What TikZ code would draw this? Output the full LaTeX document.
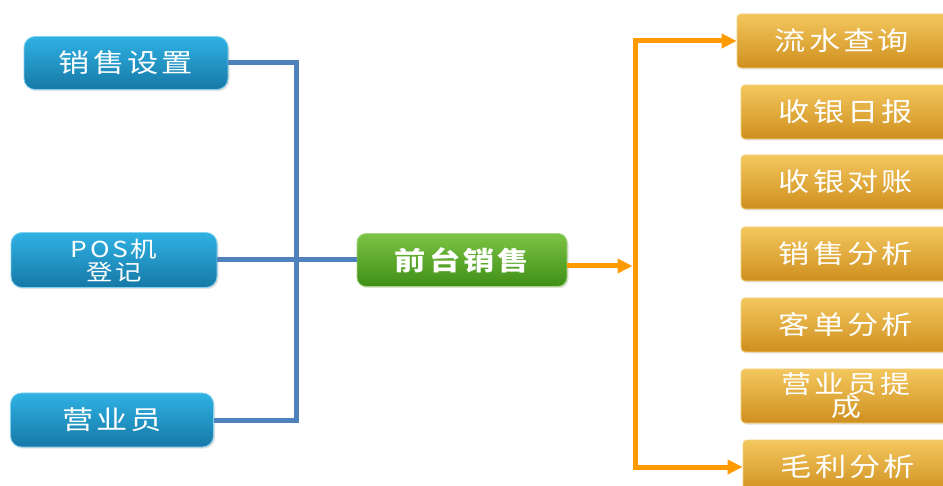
\documentclass[tikz,border=0pt]{standalone}
\usepackage{fontspec}
\newfontfamily\cjk{Noto Sans CJK SC}[LetterSpace=10]
\usetikzlibrary{arrows.meta,shadows}
\definecolor{bluetop}{HTML}{2FB2E4}
\definecolor{bluebot}{HTML}{1678A6}
\definecolor{greentop}{HTML}{7CC444}
\definecolor{greenbot}{HTML}{3F8F17}
\definecolor{gold1}{HTML}{F3C75E}
\definecolor{gold2}{HTML}{CF8F1E}
\definecolor{blueline}{HTML}{4F81BD}
\definecolor{orangeline}{HTML}{FF9A00}
\newcommand{\wide}[1]{\scalebox{1.2}[1]{#1}}
\tikzset{
  base/.style={text=white, align=center, inner sep=0pt,
    font=\cjk\fontsize{26}{27}\selectfont,
    drop shadow={shadow xshift=1.5pt, shadow yshift=-1.5pt, opacity=0.25}},
  leftbox/.style={base, rounded corners=11pt, top color=bluetop, bottom color=bluebot,
    draw=bluetop!60!white, line width=0.8pt},
  centerbox/.style={base, rounded corners=9pt, top color=greentop, bottom color=greenbot,
    draw=greentop!70!white, line width=0.8pt, font=\cjk\bfseries\fontsize{26}{27}\selectfont},
  rightbox/.style={base, rounded corners=4pt, top color=gold1, bottom color=gold2,
    draw=gold1!80!white, line width=0.8pt, minimum width=210pt, minimum height=54pt},
  bline/.style={draw=blueline, line width=5pt},
  oline/.style={draw=orangeline, line width=5pt, -{Triangle[length=15pt,width=14pt]}},
}
\begin{document}
\begin{tikzpicture}[x=1pt,y=-1pt]
\clip (0,0) rectangle (943,486);
\fill[white] (0,0) rectangle (943,486);
% left nodes
\node[leftbox, minimum width=204pt, minimum height=53pt] (s1) at (126,63) {\wide{销售设置}};
\node[leftbox, minimum width=206pt, minimum height=55pt, font=\cjk\fontsize{22}{26}\selectfont] (s2) at (114,260) {\wide{POS机}\\[-3pt]\wide{登记}};
\node[leftbox, minimum width=203pt, minimum height=54pt] (s3) at (112,420) {\wide{营业员}};
% center
\node[centerbox, minimum width=210pt, minimum height=53pt] (c) at (462,260) {\wide{前台销售}};
% right nodes
\node[rightbox] (r1) at (842,41) {\wide{流水查询}};
\node[rightbox] (r2) at (846,112) {\wide{收银日报}};
\node[rightbox] (r3) at (846,182) {\wide{收银对账}};
\node[rightbox] (r4) at (846,254) {\wide{销售分析}};
\node[rightbox] (r5) at (846,325) {\wide{客单分析}};
\node[rightbox, font=\cjk\fontsize{25}{26}\selectfont] (r6) at (846,396) {\wide{营业员提}\\[-3pt]\wide{成}};
\node[rightbox] (r7) at (848,467) {\wide{毛利分析}};
% blue connectors
\draw[bline] (s1.east) -- (296,63) -- (296,420) -- (s3.east);
\draw[bline] (s2.east) -- (c.west);
% orange connectors
\coordinate (ce) at ([yshift=-6pt]c.east);
\coordinate (oj) at (632.5,266);
\draw[oline] (ce) -- (ce -| oj);
\draw[draw=orangeline, line width=5pt] (635,42) -- (635,466);
\draw[oline] (632.5,41) -- (r1.west);
\draw[oline] (632.5,467) -- (r7.west);
\end{tikzpicture}
\end{document}
